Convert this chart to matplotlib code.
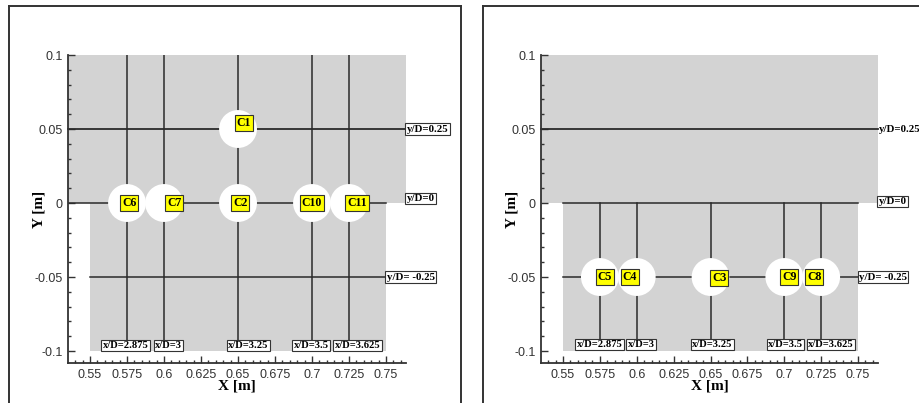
import numpy as np
import matplotlib
matplotlib.use("Agg")
import matplotlib.pyplot as plt
from matplotlib.patches import Circle, Rectangle
from matplotlib.lines import Line2D
from matplotlib.ticker import MultipleLocator, FuncFormatter

# probe stations (x positions) and their x/D labels
probe_x = [0.575, 0.6, 0.65, 0.7, 0.725]
probe_xd = ["x/D=2.875", "x/D=3", "x/D=3.25", "x/D=3.5", "x/D=3.625"]
# label centres of the x/D boxes
xd_pos_left = [0.5740, 0.6030, 0.6568, 0.6993, 0.7307]
xd_pos_right = [0.5747, 0.6030, 0.6514, 0.7007, 0.7318]

# horizontal rakes
rake_y = [0.05, 0.0, -0.05]
rake_yd = ["y/D=0.25", "y/D=0", "y/D= -0.25"]

# cylinders, left panel
cyl_left_x = [0.65, 0.575, 0.6, 0.65, 0.7, 0.725]
cyl_left_y = [0.05, 0.0, 0.0, 0.0, 0.0, 0.0]
cyl_left_name = ["C1", "C6", "C7", "C2", "C10", "C11"]
cyl_left_lx = [0.6540, 0.5764, 0.6068, 0.6515, 0.7000, 0.7304]
cyl_left_ly = [0.054, 0.0, 0.0, 0.0, 0.0, 0.0]

# cylinders, right panel
cyl_right_x = [0.575, 0.6, 0.65, 0.7, 0.725]
cyl_right_y = [-0.05, -0.05, -0.05, -0.05, -0.05]
cyl_right_name = ["C5", "C4", "C3", "C9", "C8"]
cyl_right_lx = [0.5784, 0.5953, 0.6560, 0.7034, 0.7203]
cyl_right_ly = [-0.05, -0.05, -0.0505, -0.05, -0.05]

radius = 0.0128
xmin, xmax = 0.5351, 0.7635
ymin, ymax = -0.1081, 0.1
dom_x0, dom_x1 = 0.55, 0.75
line_bot = -0.0925

lc = "#2a2a2a"
serif = "Liberation Serif"
sans = "Liberation Sans"

fig = plt.figure(figsize=(9.2, 4.03), dpi=100)

# panel frames (pixel coords)
W, H = 920, 403
def fl(x0, y0, x1, y1):
    fig.add_artist(Line2D([x0 / W, x1 / W], [1 - y0 / H, 1 - y1 / H],
                          transform=fig.transFigure, color="#333333", lw=1.4))
fl(9, 6, 461, 6); fl(9, 6, 9, 403); fl(461, 6, 461, 403)
fl(483, 6, 920, 6); fl(483, 6, 483, 403)

ax1 = fig.add_axes([68 / W, 1 - 363 / H, 338 / W, 308 / H])
ax2 = fig.add_axes([541 / W, 1 - 363 / H, 337 / W, 308 / H])

def fmt(v, pos):
    s = "%g" % round(v, 4)
    return "0" if s in ("-0", "0") else s

def base(ax):
    ax.set_xlim(xmin, xmax)
    ax.set_ylim(ymin, ymax)
    ax.set_facecolor("white")
    for s in ["top", "right"]:
        ax.spines[s].set_visible(False)
    for s in ["left", "bottom"]:
        ax.spines[s].set_color("#333333")
        ax.spines[s].set_linewidth(1.3)
    ax.xaxis.set_major_locator(MultipleLocator(0.025))
    ax.xaxis.set_minor_locator(MultipleLocator(0.005))
    ax.yaxis.set_major_locator(MultipleLocator(0.05))
    ax.yaxis.set_minor_locator(MultipleLocator(0.01))
    ax.xaxis.set_major_formatter(FuncFormatter(fmt))
    ax.yaxis.set_major_formatter(FuncFormatter(fmt))
    ax.tick_params(which="both", direction="in", colors="#333333",
                   labelsize=9, width=1.0)
    ax.tick_params(which="major", length=5, pad=4)
    ax.tick_params(which="minor", length=2.5)
    for t in ax.get_xticklabels() + ax.get_yticklabels():
        t.set_fontfamily(sans)
    ax.set_xlabel("X [m]", fontfamily=serif, fontweight="bold", fontsize=11,
                  labelpad=-1)
    ax.set_ylabel("Y [m]", fontfamily=serif, fontweight="bold", fontsize=11,
                  labelpad=-8)
    # grey computational domain
    ax.add_patch(Rectangle((xmin, 0), xmax - xmin, ymax, facecolor="#d3d3d3",
                           edgecolor="none", zorder=0, clip_on=False))
    ax.add_patch(Rectangle((dom_x0, -0.1), dom_x1 - dom_x0, 0.1,
                           facecolor="#d3d3d3", edgecolor="none", zorder=0))

box_w = dict(boxstyle="square,pad=0.12", facecolor="white", edgecolor="#333333",
             linewidth=0.8)
box_y = dict(boxstyle="square,pad=0.15", facecolor="#ffff00", edgecolor="#333333",
             linewidth=0.8)

def yd_label(ax, x, y, s, boxed=True, dy=0.0):
    ax.text(x, y + dy, s, ha="left", va="center", fontfamily=serif,
            fontweight="bold", fontsize=7.8, zorder=6, clip_on=False,
            bbox=box_w if boxed else None)

def xd_labels(ax, pos, yc):
    for xp, s in zip(pos, probe_xd):
        ax.text(xp, yc, s, ha="center", va="center", fontfamily=serif,
                fontweight="bold", fontsize=7.6, zorder=6, bbox=box_w)

def cylinders(ax, xs, ys, names, lxs, lys):
    for x, y in zip(xs, ys):
        ax.add_patch(Circle((x, y), radius, facecolor="white",
                            edgecolor="none", zorder=4))
    for lx, ly, n in zip(lxs, lys, names):
        ax.text(lx, ly, n, ha="center", va="center", fontfamily=serif,
                fontweight="bold", fontsize=8.5, zorder=5, bbox=box_y)

# ---- left panel
base(ax1)
for x in probe_x:
    ax1.plot([x, x], [ymax, line_bot], color=lc, lw=1.1, zorder=2)
ax1.plot([xmin, xmax], [rake_y[0]] * 2, color=lc, lw=1.3, zorder=2, clip_on=False)
ax1.plot([xmin, dom_x1], [rake_y[1]] * 2, color=lc, lw=1.1, zorder=2)
ax1.plot([dom_x0, dom_x1], [rake_y[2]] * 2, color=lc, lw=1.1, zorder=2)
yd_label(ax1, xmax + 0.0005, rake_y[0], rake_yd[0])
yd_label(ax1, xmax + 0.0005, rake_y[1], rake_yd[1], dy=0.003)
yd_label(ax1, dom_x1 + 0.0005, rake_y[2], rake_yd[2])
xd_labels(ax1, xd_pos_left, -0.0963)
cylinders(ax1, cyl_left_x, cyl_left_y, cyl_left_name, cyl_left_lx, cyl_left_ly)

# ---- right panel
base(ax2)
for x in probe_x:
    ax2.plot([x, x], [0.0, line_bot], color=lc, lw=1.1, zorder=2)
ax2.plot([xmin, xmax], [rake_y[0]] * 2, color=lc, lw=1.3, zorder=2, clip_on=False)
ax2.plot([dom_x0, dom_x1], [rake_y[1]] * 2, color=lc, lw=1.1, zorder=2)
ax2.plot([dom_x0, dom_x1], [rake_y[2]] * 2, color=lc, lw=1.1, zorder=2)
yd_label(ax2, xmax + 0.0005, rake_y[0], rake_yd[0], boxed=False)
yd_label(ax2, xmax + 0.0005, rake_y[1], rake_yd[1], dy=0.001)
yd_label(ax2, dom_x1 + 0.0005, rake_y[2], rake_yd[2])
xd_labels(ax2, xd_pos_right, -0.0956)
cylinders(ax2, cyl_right_x, cyl_right_y, cyl_right_name, cyl_right_lx, cyl_right_ly)

fig.savefig("out.png", dpi=100)
